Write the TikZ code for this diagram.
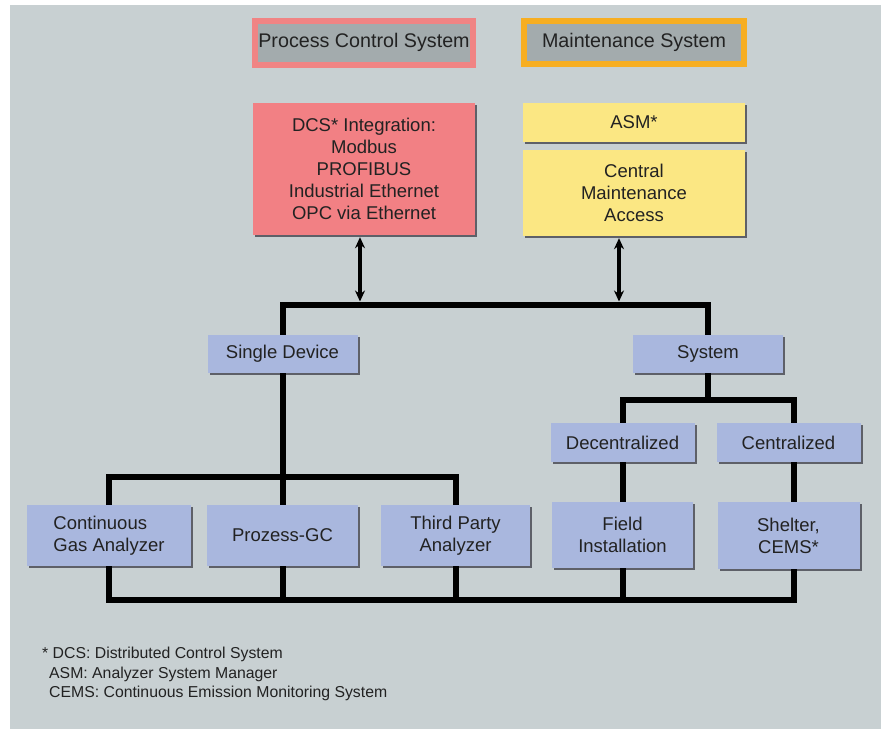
\documentclass[tikz,border=0pt]{standalone}
\usepackage{fontspec}
\setmainfont{Liberation Sans}
\usetikzlibrary{positioning}
\usetikzlibrary{shadows,arrows.meta}
\definecolor{hgrund}{HTML}{C8D0D2}
\definecolor{kopfgrau}{HTML}{A3ABAD}
\definecolor{rotrand}{HTML}{F08484}
\definecolor{orangerand}{HTML}{F7AE22}
\definecolor{rot}{HTML}{F28084}
\definecolor{gelb}{HTML}{FBE783}
\definecolor{blau}{HTML}{A9B7DE}
\definecolor{schatten}{HTML}{5E6068}
\definecolor{schrift}{HTML}{222222}
\tikzset{
	>={Stealth[length=11pt,width=10pt]},
	kasten/.style={
		rectangle,
		inner sep=0pt,
		text=schrift,
		align=center,
		font=\fontsize{18.5}{22}\selectfont,
		drop shadow={shadow xshift=2pt,shadow yshift=-2pt,fill=schatten,opacity=1}},
	blaubox/.style={kasten, fill=blau},
	gelbbox/.style={kasten, fill=gelb},
	rotbox/.style={kasten, fill=rot},
	kopfbox/.style={
		rectangle,
		fill=kopfgrau,
		line width=6pt,
		inner sep=0pt,
		text=schrift,
		font=\fontsize{19.7}{23}\selectfont},
	bus/.style={draw, line width=6pt, line join=miter},
	pfeil/.style={draw, line width=3.5pt, <->, shorten <=2pt, shorten >=3.5pt},
}
\begin{document}
\begin{tikzpicture}
			[x=1pt,y=-1pt]
			\useasboundingbox (0,0) rectangle (881,729);
			\fill[hgrund] (10,5) rectangle (881,729);
			% Kopfzeile
			\node[kopfbox, draw=rotrand, minimum width=218pt, minimum height=44pt] (pcs) at (364,42.5) {Process Control System};
			\node[kopfbox, draw=orangerand, minimum width=220pt, minimum height=43pt] (ms) at (634,42.5) {Maintenance System};
			\node[rotbox, minimum width=222pt, minimum height=132pt] (dcs) at (364,169) {DCS* Integration:\\Modbus\\PROFIBUS\\Industrial Ethernet\\OPC via Ethernet};
			\node[gelbbox, minimum width=222pt, minimum height=39pt] (asm) at (634,122.5) {ASM*};
			\node[gelbbox, minimum width=222pt, minimum height=86pt] (cma) at (634,193) {Central\\Maintenance\\Access};
			
			\node[blaubox, minimum width=150pt, minimum height=38pt] (single) at (282.5,354) {Single Device};
			\node[blaubox, minimum width=150pt, minimum height=38pt] (system) at (708,354) {System};
			\node[blaubox, minimum width=144pt, minimum height=39pt] (decent) at (622.5,442.5) {Decentralized};
			\node[blaubox, minimum width=144pt, minimum height=39pt] (cent) at (788.5,442.5) {Centralized};
			
			\node[blaubox, align=left, minimum width=164pt, minimum height=61pt] (cga) at (109,535.5) {Continuous\\Gas Analyzer};
			\node[blaubox, minimum width=151pt, minimum height=61pt] (gc) at (282.5,535.5) {Prozess-GC};
			\node[blaubox, minimum width=149pt, minimum height=61pt] (third) at (455.5,535.5) {Third Party\\Analyzer};
			\node[blaubox, minimum width=141pt, minimum height=66pt] (field) at (622.5,535) {Field\\Installation};
			\node[blaubox, minimum width=142pt, minimum height=67pt] (shelter) at (788.5,535.5) {Shelter,\\CEMS*};
			
			\coordinate (tb) at (0,305);
			\coordinate (sb) at (0,400);
			\coordinate (mb) at (0,477);
			\coordinate (bb) at (0,600);
			
			\draw[pfeil] ([xshift=-4pt]dcs.south) -- ([xshift=-4pt]dcs.south |- tb);
			\draw[pfeil] ([xshift=-15pt]cma.south) -- ([xshift=-15pt]cma.south |- tb);
			\draw[bus] (single.north) -- (single.north |- tb) -- (system.north |- tb) -- (system.north);
			\draw[bus] (single.south) -- (gc.north);
			\draw[bus] (cga.north) -- (cga.north |- mb) -- (third.north |- mb) -- (third.north);
			\draw[bus] (system.south) -- (system.south |- sb);
			\draw[bus] (decent.north) -- (decent.north |- sb) -- ([xshift=5pt]cent.north |- sb) -- ([xshift=5pt]cent.north);
			\draw[bus] (decent.south) -- (field.north);
			\draw[bus] ([xshift=5pt]cent.south) -- ([xshift=5pt]shelter.north);
			\draw[bus] (cga.south) -- (cga.south |- bb) -- ([xshift=5pt]shelter.south |- bb) -- ([xshift=5pt]shelter.south);
			\foreach \k in {gc,third,field}
				\draw[bus] (\k.south) -- (\k.south |- bb);
			
			\node[anchor=north west, inner sep=0pt, align=left, text=schrift,
				font=\fontsize{15.8}{19.5}\selectfont] (fussnote) at (42,647)
				{* DCS: Distributed Control System\\\hspace*{7pt}ASM: Analyzer System Manager\\\hspace*{7pt}CEMS: Continuous Emission Monitoring System};
\end{tikzpicture}
\end{document}
